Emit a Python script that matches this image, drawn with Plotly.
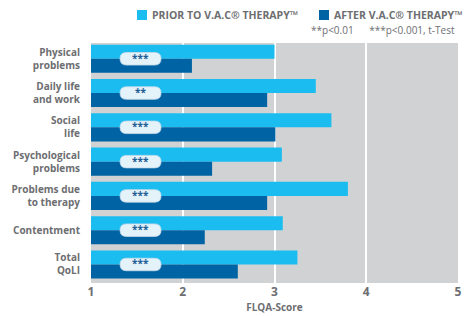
import plotly.graph_objects as go

categories = ["Physical<br>problems", "Daily life<br>and work", "Social<br>life",
              "Psychological<br>problems", "Problems due<br>to therapy", "Contentment",
              "Total<br>QoLI"]
prior = [3.00, 3.45, 3.62, 3.08, 3.80, 3.09, 3.25]
after = [2.10, 2.92, 3.01, 2.32, 2.92, 2.24, 2.60]
signif = ["***", "**", "***", "***", "***", "***", "***"]
series_names = ["PRIOR TO V.A.C® THERAPY™", "AFTER V.A.C® THERAPY™"]
series_colors = ["#1bbdf0", "#0063a3"]
x_ticks = [1, 2, 3, 4, 5]

idx = list(range(len(categories)))
GRAY = "#6d6e71"
FONT = "Open Sans"
BW = 0.41
W, H = 470, 316
ML, MR, MT, MB = 91, 12, 43, 33
PW, PH = W - ML - MR, H - MT - MB

def px_x(p):
    return (p - ML) / PW

def px_y(p):
    return (H - MB - p) / PH

fig = go.Figure()
fig.add_trace(go.Bar(
    name=series_names[0], y=idx, x=prior, orientation="h",
    offset=-BW, width=BW, marker=dict(color=series_colors[0], line=dict(width=0)),
    hoverinfo="skip",
))
fig.add_trace(go.Bar(
    name=series_names[1], y=idx, x=after, orientation="h",
    offset=0, width=BW, marker=dict(color=series_colors[1], line=dict(width=0)),
    hoverinfo="skip",
))

# significance pills
pill_cx, pill_w_px, pill_h_px = 1.54, 41, 12.5
px_per_x, px_per_y = PW / 4, PH / 7
hw = pill_w_px / 2 / px_per_x
hh = pill_h_px / 2 / px_per_y
rx = pill_h_px / 2 / px_per_x
for i, s in zip(idx, signif):
    x0, x1 = pill_cx - hw, pill_cx + hw
    y0, y1 = i - hh, i + hh
    path = (f"M {x0+rx},{y0} L {x1-rx},{y0} Q {x1},{y0} {x1},{i} Q {x1},{y1} {x1-rx},{y1} "
            f"L {x0+rx},{y1} Q {x0},{y1} {x0},{i} Q {x0},{y0} {x0+rx},{y0} Z")
    fig.add_shape(type="path", path=path, xref="x", yref="y",
                  fillcolor="#e4f2fa", line=dict(color="#c9dcea", width=0.8), layer="above")
    fig.add_annotation(x=pill_cx, y=i, text=f"<b>{s}</b>", showarrow=False, xref="x", yref="y",
                       font=dict(family=FONT, size=10, color="#1f5f95"), yshift=1)

# custom legend (square + label)
legend_sq_left = [137, 319]
for name, col, left in zip(series_names, series_colors, legend_sq_left):
    fig.add_shape(type="rect", xref="paper", yref="paper",
                  x0=px_x(left), x1=px_x(left + 10), y0=px_y(20), y1=px_y(10),
                  fillcolor=col, line=dict(width=0))
    fig.add_annotation(text=f"<b>{name}</b>", xref="paper", yref="paper",
                       x=px_x(left + 13), y=px_y(15), xanchor="left", yanchor="middle",
                       showarrow=False, font=dict(family=FONT, size=10.5, color=GRAY))

fig.add_annotation(text="**p<0.01&nbsp;&nbsp;&nbsp;&nbsp;&nbsp;&nbsp;***p<0.001, t-Test",
                   xref="paper", yref="paper", x=px_x(457), y=px_y(30), xanchor="right",
                   yanchor="middle", showarrow=False,
                   font=dict(family=FONT, size=10, color=GRAY))

fig.update_layout(
    width=W, height=H,
    margin=dict(l=ML, r=MR, t=MT, b=MB),
    paper_bgcolor="white", plot_bgcolor="#d1d2d4",
    font=dict(family=FONT, color=GRAY),
    barmode="overlay",
    showlegend=False,
    xaxis=dict(range=[1, 5], tickvals=x_ticks, showgrid=True, gridcolor="white", gridwidth=2,
               zeroline=False, showline=False, ticks="", automargin=False,
               tickfont=dict(family=FONT, size=12, color=GRAY, weight="bold"),
               title=dict(text="FLQA-Score", standoff=2,
                          font=dict(family=FONT, size=10, color=GRAY, weight="bold"))),
    yaxis=dict(range=[6.54, -0.46], tickvals=idx, ticktext=categories, showgrid=False,
               zeroline=False, ticks="", ticklabelstandoff=10, automargin=False,
               tickfont=dict(family=FONT, size=10, color=GRAY, weight="bold")),
)

fig.write_html("out.html", config={"displayModeBar": False},
               post_script="document.body.style.margin='0px';")
